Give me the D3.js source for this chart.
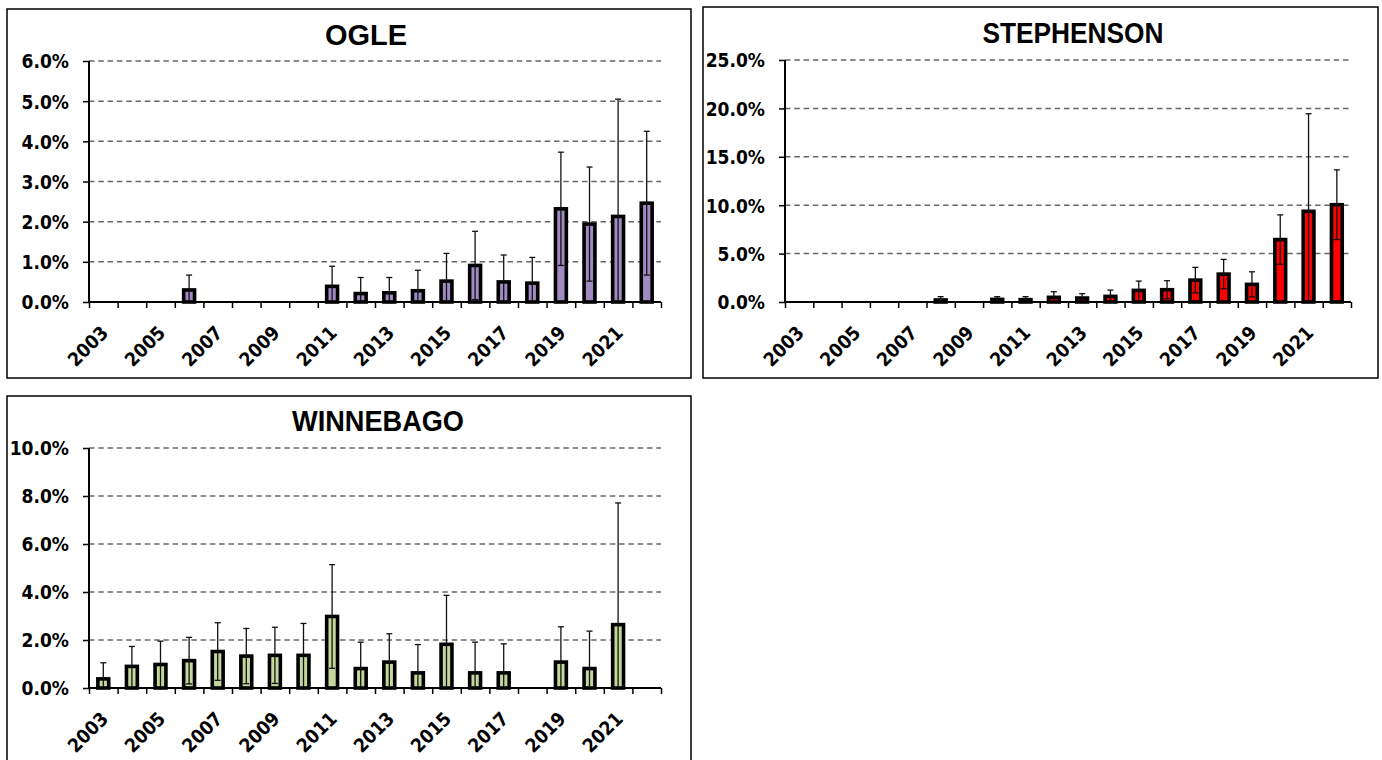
<!DOCTYPE html>
<html>
<head>
<meta charset="utf-8">
<script src="https://cdn.jsdelivr.net/npm/d3@7"></script>
<style>
  body { margin: 0; background: #fff; }
  .tick-label { font-family: "DejaVu Sans Condensed", "Liberation Sans Narrow", "DejaVu Sans", sans-serif; font-stretch: condensed; font-weight: bold; fill: #000; }
  .title { font-family: "Liberation Sans", Arial, sans-serif; font-weight: bold; fill: #000; }
</style>
</head>
<body>
<svg id="chart" width="1382" height="760"></svg>
<script>
// categories (one bar slot per year) and the labelled ones
const years = ["2003","2004","2005","2006","2007","2008","2009","2010","2011","2012",
               "2013","2014","2015","2016","2017","2018","2019","2020","2021","2022"];
const yearLabels = ["2003","2005","2007","2009","2011","2013","2015","2017","2019","2021"];

// values in percent, null = no bar
const ogleValues = [null,null,null,0.30,null,null,null,null,0.39,0.21,
                    0.23,0.28,0.52,0.91,0.50,0.47,2.32,1.94,2.13,2.46];
const ogleErrors = [null,null,null,0.37,null,null,null,null,0.50,0.40,
                    0.38,0.51,0.69,0.85,0.67,0.64,1.41,1.42,2.92,1.79];

const stephValues = [null,null,null,null,null,0.21,null,0.27,0.24,0.48,
                     0.41,0.58,1.20,1.27,2.26,2.88,1.82,6.45,9.37,10.05];
const stephErrors = [null,null,null,null,null,0.34,null,0.28,0.31,0.58,
                     0.45,0.65,0.96,0.93,1.32,1.52,1.30,2.55,10.08,3.60];

const winneValues = [0.38,0.90,0.98,1.14,1.52,1.33,1.36,1.36,2.98,0.81,
                     1.08,0.63,1.82,0.63,0.63,null,1.08,0.81,2.64,null];
const winneErrors = [0.67,0.83,0.97,0.97,1.20,1.15,1.17,1.33,2.16,1.10,
                     1.18,1.18,2.04,1.28,1.21,null,1.47,1.56,5.07,null];

const ogleTicks  = [0,1,2,3,4,5,6];
const stephTicks = [0,5,10,15,20,25];
const winneTicks = [0,2,4,6,8,10];

const svg = d3.select("#chart");
const pct = d3.format(".1f");

const panels = [
  { title: "OGLE", titleX: 366, titleY: 45, titleLen: 82,
    box: [7, 9, 684, 369], x0: 89, x1: 661, y0: 302, y1: 61,
    ticks: ogleTicks, color: "#9f8bc2", values: ogleValues, errors: ogleErrors },
  { title: "STEPHENSON", titleX: 1073, titleY: 43, titleLen: 181,
    box: [703, 7, 675, 371], x0: 785, x1: 1351, y0: 302, y1: 60,
    ticks: stephTicks, color: "#ff0000", values: stephValues, errors: stephErrors },
  { title: "WINNEBAGO", titleX: 378, titleY: 431, titleLen: 172,
    box: [7, 396, 684, 420], x0: 89, x1: 661, y0: 688, y1: 448,
    ticks: winneTicks, color: "#c3d69b", values: winneValues, errors: winneErrors }
];

panels.forEach(drawPanel);

function drawPanel(p) {
  const g = svg.append("g");

  // frame
  g.append("rect")
    .attr("x", p.box[0]).attr("y", p.box[1])
    .attr("width", p.box[2]).attr("height", p.box[3])
    .attr("fill", "#fff").attr("stroke", "#000").attr("stroke-width", 1.5);

  // title
  g.append("text").attr("class", "title")
    .attr("x", p.titleX).attr("y", p.titleY)
    .attr("text-anchor", "middle")
    .attr("font-size", 29)
    .attr("textLength", p.titleLen).attr("lengthAdjust", "spacingAndGlyphs")
    .text(p.title);

  // scales
  const x = d3.scaleBand().domain(years).range([p.x0, p.x1]).padding(0);
  const y = d3.scaleLinear().domain([0, d3.max(p.ticks)]).range([p.y0, p.y1]);
  const bw = x.bandwidth();

  // dashed grid
  g.selectAll("line.grid")
    .data(p.ticks.filter(t => t > 0))
    .join("line").attr("class", "grid")
      .attr("x1", p.x0).attr("x2", p.x1)
      .attr("y1", d => y(d)).attr("y2", d => y(d))
      .attr("stroke", "#666").attr("stroke-width", 1.5)
      .attr("stroke-dasharray", "5.5,3.8");

  // y axis
  const yAxis = g.append("g")
    .attr("transform", `translate(${p.x0},0)`)
    .call(d3.axisLeft(y).tickValues(p.ticks).tickSize(6).tickPadding(14)
      .tickFormat(d => pct(d) + "%"));
  yAxis.select(".domain").attr("stroke", "#000").attr("stroke-width", 2)
    .attr("d", `M0,${p.y0}V${p.y1}`);
  yAxis.selectAll(".tick line").attr("stroke", "#000").attr("stroke-width", 1.5);
  yAxis.selectAll(".tick text").attr("class", "tick-label")
    .attr("font-size", 19).attr("dy", "0.36em");

  // bars
  const data = years.map((yr, i) => ({ yr, v: p.values[i], e: p.errors[i] }))
                    .filter(d => d.v != null);
  const barW = bw * 0.38;
  g.selectAll("rect.bar")
    .data(data)
    .join("rect").attr("class", "bar")
      .attr("x", d => x(d.yr) + (bw - barW) / 2)
      .attr("width", barW)
      .attr("y", d => y(d.v))
      .attr("height", d => y(0) - y(d.v))
      .attr("fill", p.color)
      .attr("stroke", "#000").attr("stroke-width", 3.6);

  // error bars (symmetric, clipped at zero)
  const cap = 3;
  data.forEach(d => {
    const cx = x(d.yr) + bw / 2;
    const hi = d.v + d.e, lo = d.v - d.e;
    const eg = g.append("g").attr("stroke", "#111").attr("stroke-width", 1.3);
    eg.append("line").attr("x1", cx).attr("x2", cx)
      .attr("y1", y(Math.max(lo, 0))).attr("y2", y(hi));
    eg.append("line").attr("x1", cx - cap).attr("x2", cx + cap)
      .attr("y1", y(hi)).attr("y2", y(hi));
    if (lo > 0.06 * d3.max(p.ticks) / 6) {
      eg.append("line").attr("x1", cx - cap).attr("x2", cx + cap)
        .attr("y1", y(lo)).attr("y2", y(lo));
    }
  });

  // x axis line with boundary ticks
  const edges = d3.scaleLinear().domain([0, years.length]).range([p.x0, p.x1]);
  const xAxis = g.append("g")
    .attr("transform", `translate(0,${p.y0})`)
    .call(d3.axisBottom(edges).tickValues(d3.range(0, years.length + 1))
      .tickSize(6).tickFormat(""));
  xAxis.select(".domain").attr("stroke", "#000").attr("stroke-width", 2)
    .attr("d", `M${p.x0},0H${p.x1}`);
  xAxis.selectAll(".tick line").attr("stroke", "#000").attr("stroke-width", 1.5);

  // rotated year labels
  g.selectAll("text.year")
    .data(yearLabels)
    .join("text").attr("class", "tick-label year")
      .attr("font-size", 19)
      .attr("text-anchor", "end")
      .attr("transform", d => `translate(${x(d) + bw / 2 + 6},${p.y0 + 32}) rotate(-45)`)
      .text(d => d);
}
</script>
</body>
</html>
